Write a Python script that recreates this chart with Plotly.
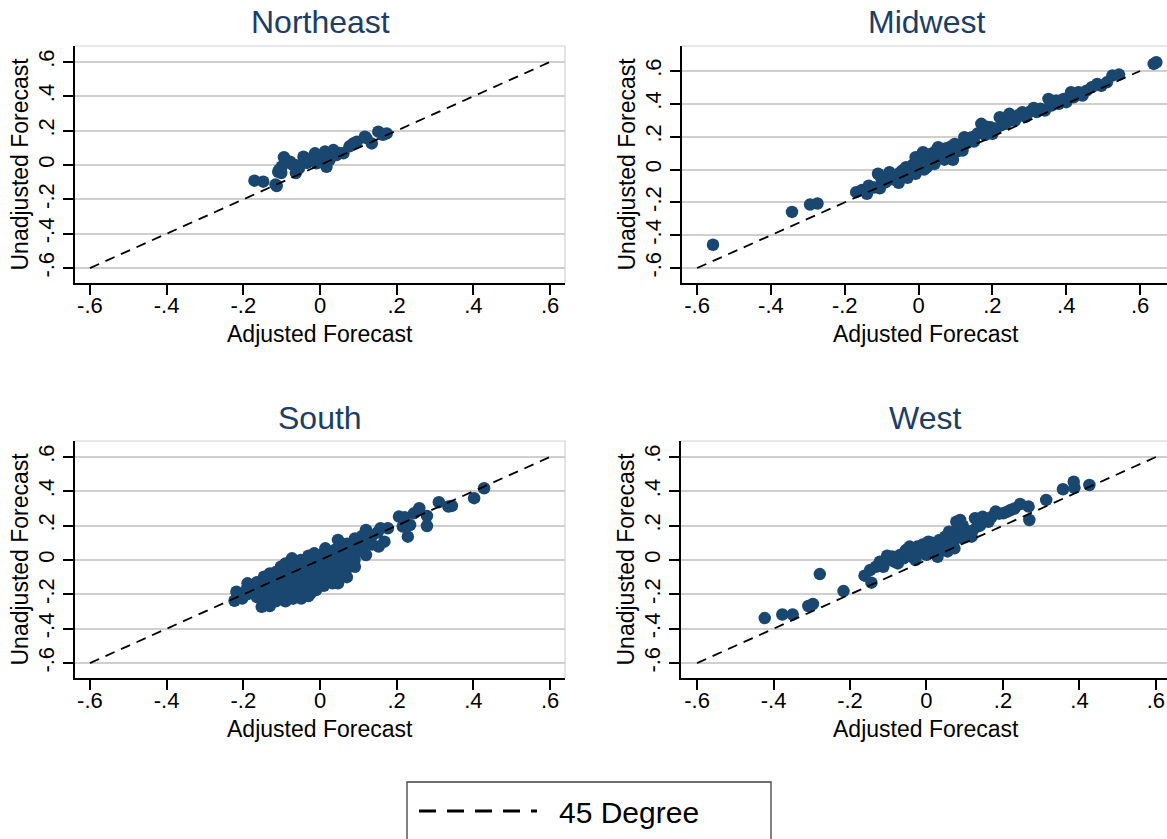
import plotly.graph_objects as go

W, H = 1167, 839

# ---------------- data ----------------
ne_adj = [-0.171, -0.148, -0.116, -0.113, -0.109, -0.106, -0.101, -0.100, -0.094, -0.078,
          -0.072, -0.065, -0.063, -0.055, -0.043, -0.034, -0.030, -0.019, -0.013, -0.009,
          0.005, 0.013, 0.017, 0.025, 0.035, 0.043, 0.050, 0.061, 0.077, 0.087,
          0.096, 0.117, 0.121, 0.135, 0.152, 0.164, 0.174]
ne_unadj = [-0.091, -0.097, -0.114, -0.122, -0.039, -0.027, -0.047, -0.010, 0.045, 0.019,
            0.002, 0.000, -0.047, -0.020, 0.048, 0.012, 0.029, 0.041, 0.068, 0.010,
            0.050, 0.078, -0.010, 0.030, 0.087, 0.058, 0.070, 0.068, 0.109, 0.126,
            0.136, 0.165, 0.157, 0.126, 0.194, 0.176, 0.184]

mw_adj = [-0.557, -0.343, -0.294, -0.274,
          -0.169, -0.153, -0.140, -0.135, -0.120, -0.110, -0.105, -0.100, -0.089, -0.085,
          -0.079, -0.070, -0.059, -0.054, -0.050, -0.044, -0.034, -0.030, -0.023, -0.015,
          -0.008, -0.008, 0.002, 0.005, 0.012, 0.015, 0.022, 0.025, 0.032, 0.035,
          0.043, 0.045, 0.053, 0.055, 0.060, 0.068, 0.070, 0.075, 0.083, 0.088,
          0.093, 0.098, 0.105, 0.110, 0.119, 0.124, 0.130, 0.135, 0.144, 0.150,
          0.160, 0.170, 0.175, 0.180, 0.185, 0.195, 0.200, 0.210, 0.220, 0.225,
          0.236, 0.246, 0.250, 0.261, 0.270, 0.281, 0.290, 0.300, 0.312, 0.320,
          0.330, 0.342, 0.352, 0.360, 0.373, 0.380, 0.393, 0.400, 0.413, 0.420,
          0.433, 0.444, 0.455, 0.469, 0.484, 0.495, 0.510, 0.525, 0.543, 0.637, 0.644]
mw_unadj = [-0.458, -0.258, -0.213, -0.207,
            -0.138, -0.124, -0.148, -0.099, -0.110, -0.026, -0.114, -0.060, -0.077, -0.040,
            -0.016, -0.060, -0.047, -0.081, -0.020, -0.006, 0.014, -0.050, -0.026, 0.030,
            -0.026, 0.075, 0.034, 0.060, 0.105, 0.000, 0.014, 0.070, 0.095, 0.040,
            0.034, 0.110, 0.136, 0.070, 0.100, 0.116, 0.060, 0.130, 0.085, 0.140,
            0.059, 0.156, 0.110, 0.150, 0.116, 0.197, 0.160, 0.180, 0.197, 0.170,
            0.220, 0.278, 0.237, 0.210, 0.260, 0.258, 0.217, 0.250, 0.318, 0.270,
            0.278, 0.339, 0.300, 0.298, 0.330, 0.349, 0.320, 0.350, 0.375, 0.350,
            0.370, 0.359, 0.430, 0.390, 0.420, 0.400, 0.430, 0.410, 0.471, 0.440,
            0.471, 0.450, 0.480, 0.501, 0.521, 0.510, 0.531, 0.572, 0.578, 0.643, 0.653]

so_adj = [0.428, 0.402, 0.310, 0.335, 0.344, 0.259, 0.245, 0.279, 0.279, 0.206,
          0.221, 0.235, 0.216, 0.229, 0.177, 0.158, 0.168, 0.153, 0.120, 0.120,
          0.091, 0.091, 0.047, 0.038, 0.047, 0.033, 0.014, -0.015, -0.025, -0.049,
          -0.073, -0.102, -0.131, -0.146, -0.189, -0.218, -0.223, -0.203, -0.152, -0.131,
          -0.215, -0.190, -0.190, -0.165, -0.165, -0.165, -0.140, -0.140, -0.140,
          -0.115, -0.115, -0.115, -0.115, -0.115,
          -0.090, -0.090, -0.090, -0.090, -0.090, -0.090,
          -0.070, -0.070, -0.070, -0.070, -0.070,
          -0.050, -0.050, -0.050, -0.050, -0.050,
          -0.030, -0.030, -0.030, -0.030, -0.030, -0.030,
          -0.010, -0.010, -0.010, -0.010, -0.010,
          0.010, 0.010, 0.010, 0.010, 0.010,
          0.030, 0.030, 0.030, 0.030,
          0.050, 0.050, 0.050, 0.050,
          0.070, 0.070, 0.070, 0.070, 0.070,
          0.090, 0.090, 0.090,
          0.110, 0.110, 0.110,
          0.135, 0.135, 0.150]
so_unadj = [0.418, 0.360, 0.337, 0.311, 0.315, 0.302, 0.272, 0.257, 0.198, 0.253,
            0.249, 0.204, 0.195, 0.136, 0.185, 0.185, 0.107, 0.078, 0.175, 0.029,
            0.126, -0.039, 0.117, 0.058, -0.136, -0.136, 0.068, 0.039, -0.195, -0.224,
            0.010, -0.039, -0.078, -0.097, -0.136, -0.185, -0.237, -0.224, -0.272, -0.268,
            -0.210, -0.200, -0.165, -0.215, -0.175, -0.130, -0.225, -0.180, -0.130,
            -0.240, -0.195, -0.145, -0.100, -0.070,
            -0.240, -0.200, -0.155, -0.110, -0.060, -0.020,
            -0.225, -0.180, -0.130, -0.080, -0.035,
            -0.190, -0.145, -0.095, -0.045, 0.000,
            -0.210, -0.160, -0.110, -0.060, -0.010, 0.025,
            -0.175, -0.125, -0.075, -0.025, 0.020,
            -0.150, -0.100, -0.050, 0.000, 0.040,
            -0.100, -0.050, 0.000, 0.030,
            -0.090, -0.040, 0.010, 0.075,
            -0.100, -0.050, 0.000, 0.050, 0.095,
            0.000, 0.045, 0.090,
            0.050, 0.100, 0.140,
            0.090, 0.140, 0.160]

we_adj = [-0.423, -0.377, -0.350, -0.309, -0.297, -0.279, -0.217, -0.162, -0.144, -0.147,
          -0.132, -0.122, -0.103, -0.113, -0.083, -0.069, -0.054, -0.044, -0.029, -0.024,
          -0.010, 0.005, 0.020, 0.029, 0.034, 0.049, 0.059, 0.064, 0.073, 0.078,
          0.088, 0.083, 0.103, 0.118, 0.127, 0.132, 0.147, 0.162, 0.181, 0.201,
          0.220, 0.245, 0.267, 0.269, 0.313, 0.357, 0.385, 0.387, 0.426,
          -0.100, -0.090, -0.075, -0.060, -0.050, -0.040, -0.035, -0.020, -0.010, 0.000,
          0.010, 0.015, 0.030, 0.040, 0.050, 0.055, 0.065, 0.070, 0.090, 0.095,
          0.100, 0.110, 0.120, 0.135, 0.140, 0.155, 0.170, 0.190, 0.210, 0.230]
we_unadj = [-0.338, -0.317, -0.317, -0.268, -0.256, -0.082, -0.181, -0.091, -0.132, -0.058,
            -0.039, -0.010, 0.025, -0.039, -0.010, 0.029, 0.058, 0.078, 0.000, 0.078,
            0.058, 0.107, 0.078, 0.019, 0.117, 0.136, 0.165, 0.117, 0.068, 0.223,
            0.233, 0.175, 0.136, 0.136, 0.243, 0.194, 0.252, 0.223, 0.282, 0.272,
            0.291, 0.326, 0.311, 0.233, 0.350, 0.412, 0.456, 0.421, 0.437,
            0.000, 0.020, -0.020, 0.010, 0.040, 0.020, 0.060, 0.040, 0.090, 0.030,
            0.070, 0.100, 0.060, 0.090, 0.110, 0.050, 0.140, 0.100, 0.130, 0.200,
            0.170, 0.150, 0.170, 0.220, 0.200, 0.240, 0.250, 0.270, 0.280, 0.300]

line45 = [-0.6, 0.6]
tick_vals = [-0.6, -0.4, -0.2, 0, 0.2, 0.4, 0.6]
tick_text = ["-.6", "-.4", "-.2", "0", ".2", ".4", ".6"]
region_names = ["Northeast", "Midwest", "South", "West"]
legend_label = "45 Degree"
x_title = "Adjusted Forecast"
y_title = "Unadjusted Forecast"

# ---------------- layout geometry (pixels) ----------------
FONT = "Liberation Sans, Arial, Helvetica, sans-serif"
MARKER = "#1a476f"
TITLE_C = "#1c3d66"

panels = [
    dict(x=ne_adj, y=ne_unadj, px=(75, 565), py=(46, 283), xr=(-0.639, 0.639), yr=(-0.687, 0.693), right=True),
    dict(x=mw_adj, y=mw_unadj, px=(682, 1167), py=(46, 283), xr=(-0.641, 0.673), yr=(-0.691, 0.752), right=False),
    dict(x=so_adj, y=so_unadj, px=(75, 565), py=(441, 678), xr=(-0.639, 0.639), yr=(-0.687, 0.693), right=True),
    dict(x=we_adj, y=we_unadj, px=(681, 1167), py=(441, 678), xr=(-0.642, 0.629), yr=(-0.687, 0.693), right=False),
]
title_pos = [(320, 22), (926, 22), (320, 418), (925, 418)]


def fx(p):
    return p / W


def fy(p):
    return 1 - p / H


fig = go.Figure()
shapes = []
annotations = []
layout_axes = {}

for i, p in enumerate(panels):
    n = "" if i == 0 else str(i + 1)
    xa, ya = "x" + n, "y" + n
    fig.add_trace(go.Scatter(x=p["x"], y=p["y"], mode="markers", xaxis=xa, yaxis=ya,
                             marker=dict(size=12.5, color=MARKER, line=dict(width=0)),
                             showlegend=False, hoverinfo="skip"))
    fig.add_trace(go.Scatter(x=line45, y=line45, mode="lines", xaxis=xa, yaxis=ya,
                             line=dict(color="black", width=1.8, dash="10px,7px"),
                             showlegend=False, hoverinfo="skip"))
    common = dict(showline=True, linecolor="black", linewidth=1.5, ticks="outside",
                  ticklen=10, tickwidth=1.5, tickcolor="black", tickvals=tick_vals,
                  ticktext=tick_text, tickfont=dict(family=FONT, size=22, color="black"),
                  zeroline=False, fixedrange=True)
    layout_axes["xaxis" + n] = dict(common, domain=[fx(p["px"][0]), fx(p["px"][1])],
                                    range=list(p["xr"]), anchor=ya, showgrid=False,
                                    ticklabelstandoff=-8)
    layout_axes["yaxis" + n] = dict(common, domain=[fy(p["py"][1]), fy(p["py"][0])],
                                    range=list(p["yr"]), anchor=xa, showgrid=True,
                                    gridcolor="#cfcfcf", gridwidth=1.5, tickangle=-90)
    # light frame (top and right)
    shapes.append(dict(type="line", xref=xa + " domain", yref=ya + " domain", x0=0, x1=1, y0=1, y1=1,
                       line=dict(color="#d0d0d0", width=1.2), layer="below"))
    if p["right"]:
        shapes.append(dict(type="line", xref=xa + " domain", yref=ya + " domain", x0=1, x1=1, y0=0, y1=1,
                           line=dict(color="#d0d0d0", width=1.2), layer="below"))
    # panel title
    tx, ty = title_pos[i]
    annotations.append(dict(text=region_names[i], x=fx(tx), y=fy(ty), xref="paper", yref="paper",
                            xanchor="center", yanchor="middle", showarrow=False,
                            font=dict(family=FONT, size=32, color=TITLE_C)))
    # axis titles
    cx = (p["px"][0] + (565 if p["right"] else 1170)) / 2
    annotations.append(dict(text=x_title, x=fx(cx), y=fy(p["py"][1] + 51), xref="paper", yref="paper",
                            xanchor="center", yanchor="middle", showarrow=False,
                            font=dict(family=FONT, size=23, color="black")))
    annotations.append(dict(text=y_title, x=fx(p["px"][0] - 56), y=fy((p["py"][0] + p["py"][1]) / 2),
                            xref="paper", yref="paper", xanchor="center", yanchor="middle",
                            textangle=-90, showarrow=False,
                            font=dict(family=FONT, size=23, color="black")))

# legend box (drawn like Stata's)
shapes.append(dict(type="rect", xref="paper", yref="paper", x0=fx(407), x1=fx(771), y0=fy(782), y1=fy(860),
                   line=dict(color="#404040", width=1.3), fillcolor="white"))
shapes.append(dict(type="line", xref="paper", yref="paper", x0=fx(419), x1=fx(537), y0=fy(811), y1=fy(811),
                   line=dict(color="black", width=3, dash="17px,11px")))
annotations.append(dict(text=legend_label, x=fx(557), y=fy(812), xref="paper", yref="paper",
                        xanchor="left", yanchor="middle", showarrow=False,
                        font=dict(family=FONT, size=30, color="black")))

fig.update_layout(width=W, height=H, autosize=False, margin=dict(l=0, r=0, t=0, b=0, pad=0),
                  paper_bgcolor="white", plot_bgcolor="white", font=dict(family=FONT),
                  shapes=shapes, annotations=annotations, showlegend=False, **layout_axes)

fig.write_html("out.html")
